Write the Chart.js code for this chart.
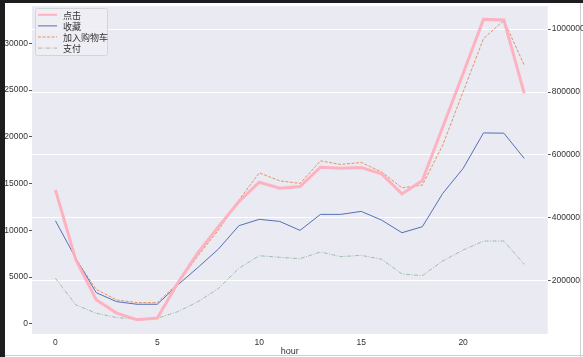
<!DOCTYPE html>
<html>
<head>
<meta charset="utf-8">
<script src="https://cdn.jsdelivr.net/npm/chart.js@4.4.1/dist/chart.umd.min.js"></script>
<style>
  html, body { margin: 0; padding: 0; background: #ffffff; }
  canvas { display: block; }
</style>
</head>
<body>
<canvas id="c" width="583" height="357"></canvas>
<script>
// ---- data ----
const hours = [0,1,2,3,4,5,6,7,8,9,10,11,12,13,14,15,16,17,18,19,20,21,22,23];
const seriesNames = ['点击', '收藏', '加入购物车', '支付'];
const clickPv = [488900,266700,139700,97500,76200,81600,192700,290000,372400,451700,513300,494300,499400,561000,557800,559700,540000,476200,518400,689000,859000,1030800,1028600,795900];
const favCount = [11030,7010,3340,2380,2100,2100,4160,6050,8010,10500,11180,10960,10000,11710,11710,12030,11100,9750,10390,13950,16620,20420,20390,17690];
const cartCount = [14200,6900,3700,2560,2280,2280,4340,7300,10040,13240,16150,15300,15020,17430,17050,17260,16260,14550,14840,19110,24800,30500,32450,27650];
const buyCount = [4880,2030,1140,680,500,600,1310,2380,3800,5950,7290,7120,6970,7690,7190,7330,6910,5340,5160,6730,7900,8860,8860,6370];
const xTickValues = [0,5,10,15,20];
const leftTickValues = [0,5000,10000,15000,20000,25000,30000];
const rightTickValues = [200000,400000,600000,800000,1000000];
const xLabel = 'hour';

const pts = arr => hours.map((h, i) => ({x: h, y: arr[i]}));

const bgPlugin = {
  id: 'bg',
  beforeDraw(chart) {
    const ctx = chart.ctx, a = chart.chartArea;
    ctx.save();
    ctx.fillStyle = '#ffffff';
    ctx.fillRect(0, 0, chart.width, chart.height);
    ctx.fillStyle = '#1d1d1f';
    ctx.fillRect(0, 0, 5, chart.height);
    ctx.fillRect(0, 0, chart.width, 3);
    ctx.fillStyle = '#cfcfd3';
    ctx.fillRect(580, 3, 1, chart.height);
    ctx.fillRect(5, 355, chart.width, 1);
    ctx.fillStyle = '#EAEAF2';
    ctx.fillRect(a.left, a.top, a.right - a.left, a.bottom - a.top);
    ctx.restore();
  }
};

const legendPlugin = {
  id: 'boxLegend',
  afterDatasetsDraw(chart) {
    const ctx = chart.ctx;
    const ds = chart.data.datasets;
    ctx.save();
    const bx = 35.5, by = 8.5, bw = 72, bh = 47;
    ctx.fillStyle = 'rgba(238,238,245,0.85)';
    ctx.strokeStyle = '#d4d4da';
    ctx.lineWidth = 1;
    ctx.beginPath();
    if (ctx.roundRect) ctx.roundRect(bx, by, bw, bh, 2); else ctx.rect(bx, by, bw, bh);
    ctx.fill();
    ctx.stroke();
    ctx.font = '9px "Noto Sans CJK SC"';
    ctx.textBaseline = 'middle';
    ctx.fillStyle = '#333333';
    ds.forEach((d, i) => {
      const y = 14.8 + i * 11.1;
      ctx.beginPath();
      ctx.strokeStyle = d.borderColor;
      ctx.lineWidth = Math.min(d.borderWidth, 2);
      ctx.setLineDash(d.borderDash || []);
      ctx.moveTo(38, y);
      ctx.lineTo(57, y);
      ctx.stroke();
      ctx.setLineDash([]);
      ctx.fillText(d.label, 63, y + 0.5);
    });
    ctx.restore();
  }
};

const tickFont = {family: '"Liberation Sans", Arial, sans-serif', size: 8.5};

new Chart(document.getElementById('c'), {
  type: 'line',
  data: {
    datasets: [
      {label: seriesNames[0], data: pts(clickPv), yAxisID: 'y1', borderColor: 'rgba(255,175,190,0.95)', borderWidth: 3, pointRadius: 0, tension: 0, order: 0},
      {label: seriesNames[1], data: pts(favCount), yAxisID: 'y', borderColor: '#5470b8', borderWidth: 1, pointRadius: 0, tension: 0, order: 1},
      {label: seriesNames[2], data: pts(cartCount), yAxisID: 'y', borderColor: '#dd8a5a', borderWidth: 0.9, borderDash: [3, 1.5], pointRadius: 0, tension: 0, order: 1},
      {label: seriesNames[3], data: pts(buyCount), yAxisID: 'y', borderColor: '#93b8a2', borderWidth: 0.9, borderDash: [4, 1.5, 1, 1.5], pointRadius: 0, tension: 0, order: 1}
    ]
  },
  options: {
    responsive: false,
    animation: false,
    devicePixelRatio: 1,
    layout: {padding: {top: 6, left: 0, right: 0, bottom: 0}},
    plugins: {legend: {display: false}, tooltip: {enabled: false}},
    scales: {
      x: {
        type: 'linear', position: 'bottom', min: -1.15, max: 24.15,
        afterBuildTicks: s => { s.ticks = xTickValues.map(v => ({value: v})); },
        grid: {display: false, drawTicks: false},
        border: {display: false},
        ticks: {font: tickFont, color: '#333', padding: 4, maxRotation: 0, callback: v => String(v)},
        title: {display: true, text: xLabel, font: {family: '"Liberation Sans", Arial, sans-serif', size: 9}, color: '#333', padding: {top: 0, bottom: 0}},
        afterFit: s => { s.height = 23; }
      },
      y: {
        type: 'linear', position: 'left', min: -1080, max: 33980,
        afterBuildTicks: s => { s.ticks = leftTickValues.map(v => ({value: v})); },
        grid: {drawOnChartArea: false, tickLength: 3, tickColor: '#555', tickWidth: 1},
        border: {display: false},
        ticks: {font: tickFont, color: '#333', padding: 1, callback: v => String(v)},
        afterFit: s => { s.width = 32; }
      },
      y1: {
        type: 'linear', position: 'right', min: 31000, max: 1073000,
        afterBuildTicks: s => { s.ticks = rightTickValues.map(v => ({value: v})); },
        grid: {color: '#ffffff', lineWidth: 1, tickLength: 3, tickColor: '#555', tickWidth: 1},
        border: {display: false},
        ticks: {font: tickFont, color: '#333', padding: 1, callback: v => String(v)},
        afterFit: s => { s.width = 35.3; }
      }
    }
  },
  plugins: [bgPlugin, legendPlugin]
});
</script>
</body>
</html>
